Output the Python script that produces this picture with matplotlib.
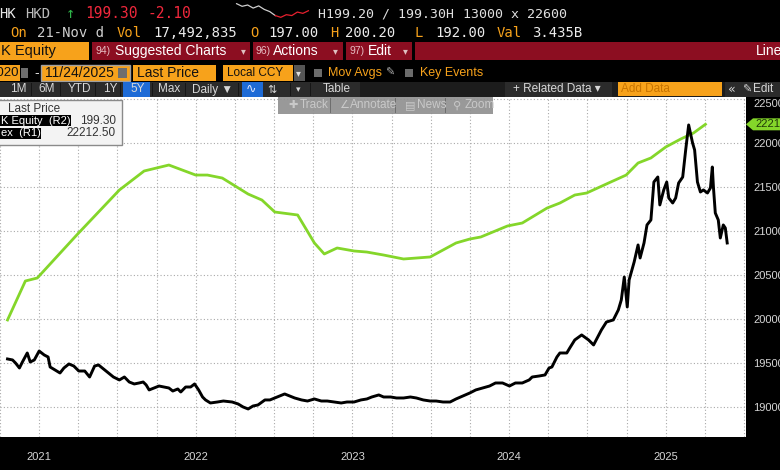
import matplotlib
matplotlib.use('Agg')
import numpy as np
import matplotlib.pyplot as plt
from matplotlib.patches import Rectangle, Polygon

# ---- values ----
# black line: the HK equity, last price (R2, axis hidden), time in decimal years
eq_t = [
    2021.298, 2021.330, 2021.349, 2021.374, 2021.393, 2021.424, 2021.443, 2021.469, 2021.500, 2021.532,
    2021.557, 2021.570, 2021.601, 2021.633, 2021.658, 2021.690, 2021.721, 2021.753, 2021.791, 2021.822,
    2021.854, 2021.879, 2021.911, 2021.943, 2021.974, 2022.012, 2022.044, 2022.075, 2022.107, 2022.138,
    2022.164, 2022.183, 2022.202, 2022.233, 2022.265, 2022.296, 2022.328, 2022.353, 2022.385, 2022.404,
    2022.435, 2022.467, 2022.492, 2022.518, 2022.543, 2022.562, 2022.593, 2022.638, 2022.676, 2022.732,
    2022.770, 2022.802, 2022.834, 2022.865, 2022.897, 2022.941, 2022.973, 2023.004, 2023.036, 2023.067,
    2023.099, 2023.131, 2023.175, 2023.213, 2023.257, 2023.301, 2023.339, 2023.383, 2023.428, 2023.465,
    2023.510, 2023.554, 2023.592, 2023.623, 2023.668, 2023.699, 2023.744, 2023.781, 2023.826, 2023.870,
    2023.908, 2023.952, 2023.996, 2024.034, 2024.078, 2024.123, 2024.161, 2024.205, 2024.249, 2024.287,
    2024.331, 2024.375, 2024.413, 2024.458, 2024.502, 2024.540, 2024.584, 2024.628, 2024.647, 2024.691,
    2024.729, 2024.755, 2024.773, 2024.805, 2024.824, 2024.868, 2024.887, 2024.919, 2024.963, 2025.007,
    2025.039, 2025.089, 2025.121, 2025.165, 2025.197, 2025.216, 2025.235, 2025.254, 2025.266, 2025.298,
    2025.323, 2025.336, 2025.361, 2025.380, 2025.405, 2025.424, 2025.449, 2025.462, 2025.487, 2025.506,
    2025.519, 2025.544, 2025.563, 2025.582, 2025.608, 2025.627, 2025.646, 2025.671, 2025.684, 2025.702,
    2025.721, 2025.740, 2025.766, 2025.785, 2025.797, 2025.804, 2025.816, 2025.835, 2025.848, 2025.867,
    2025.880, 2025.892]
eq_px = [
    69.4, 68.3, 64.9, 59.3, 66.0, 76.1, 66.0, 68.3, 78.3, 73.9,
    71.6, 60.4, 57.1, 53.7, 59.3, 63.8, 61.5, 55.9, 55.9, 49.2,
    61.5, 62.7, 58.2, 53.7, 49.2, 45.9, 49.2, 43.6, 41.4, 42.5,
    43.6, 40.3, 34.7, 36.9, 39.1, 38.0, 36.9, 33.5, 35.8, 32.4,
    38.0, 38.0, 41.4, 34.7, 26.8, 23.5, 20.1, 21.2, 22.3, 21.2,
    19.0, 15.6, 13.4, 16.7, 17.9, 23.5, 23.5, 25.7, 27.9, 30.2,
    27.9, 25.7, 23.5, 22.3, 24.6, 22.3, 22.3, 21.2, 20.1, 21.2,
    21.2, 23.5, 24.6, 26.8, 29.1, 26.8, 26.8, 25.7, 25.7, 26.8,
    25.7, 23.5, 22.3, 22.3, 21.2, 21.2, 24.6, 27.9, 31.3, 34.7,
    36.9, 39.1, 42.5, 42.5, 39.1, 42.5, 42.5, 45.9, 49.2, 50.3,
    51.5, 59.3, 60.4, 71.6, 76.1, 76.1, 81.7, 90.7, 96.3, 90.7,
    85.1, 101.9, 110.8, 113.1, 124.3, 135.5, 161.2, 127.6, 157.9, 178.0,
    197.1, 182.5, 199.3, 219.5, 225.1, 267.6, 273.2, 241.9, 258.7, 267.6,
    249.7, 244.1, 249.7, 266.5, 273.2, 303.5, 331.5, 311.3, 303.5, 267.6,
    256.4, 258.7, 255.3, 260.9, 284.4, 262.0, 232.9, 225.1, 204.9, 219.5,
    216.1, 199.3]

# green line: the index (R1)
idx_t = [2021.298, 2021.412, 2021.488, 2021.740, 2022.012, 2022.170, 2022.328, 2022.499,
         2022.574, 2022.669, 2022.834, 2022.922, 2023.004, 2023.150, 2023.257, 2023.320,
         2023.402, 2023.510, 2023.592, 2023.699, 2023.826, 2023.996, 2024.161, 2024.249,
         2024.319, 2024.489, 2024.584, 2024.742, 2024.824, 2024.919, 2024.995, 2025.134,
         2025.247, 2025.323, 2025.405, 2025.500, 2025.595, 2025.677, 2025.753]
idx_val = [19989, 20432, 20466, 20955, 21466, 21682, 21750, 21636, 21636, 21602, 21420,
           21352, 21216, 21182, 20864, 20739, 20807, 20773, 20761, 20727, 20682, 20705,
           20864, 20909, 20932, 21057, 21091, 21261, 21318, 21409, 21432, 21545, 21636,
           21773, 21830, 21955, 22045, 22114, 22212.5]

# intraday sparkline in the header
spark_vals = [201.6, 201.0, 201.3, 200.6, 201.1, 200.3, 199.8, 198.9, 198.5, 199.1,
              198.9, 199.7, 199.4, 200.0]
spark_split = 7

r1_ticks = [19000, 19500, 20000, 20500, 21000, 21500, 22000, 22500]
years = [2021, 2022, 2023, 2024, 2025]

eq_last = 199.30
idx_last = 22212.50

# ---- figure ----
W, H = 780, 470
fig = plt.figure(figsize=(W / 100, H / 100), dpi=100)
fig.patch.set_facecolor('black')

SANS = ['Liberation Sans', 'DejaVu Sans']
MONO = ['DejaVu Sans Mono', 'DejaVu Sans']
NARROW = ['Liberation Sans Narrow', 'Liberation Sans', 'DejaVu Sans']
SYM = ['DejaVu Sans']

ORANGE = '#f7a21b'
RED_BAR = '#8c0e21'
GREY_TXT = '#d6d6d6'
GREEN = '#84d62a'


def fx(x):
    return x / W


def fy(y):
    return 1 - y / H


def rect(x0, y0, x1, y1, fc, ec='none', lw=0, z=2, alpha=1.0):
    fig.patches.append(Rectangle((fx(x0), fy(y1)), (x1 - x0) / W, (y1 - y0) / H,
                                 transform=fig.transFigure, fc=fc, ec=ec, lw=lw,
                                 zorder=z, alpha=alpha))


def label(x, y, s, c=GREY_TXT, size=10, fam=SANS, ha='left', z=6):
    fig.text(fx(x), fy(y), s, color=c, fontsize=size, family=fam, ha=ha,
             va='center', zorder=z)


# main chart
ax = fig.add_axes([0, fy(437), fx(746), 340 / H])
ax.set_facecolor('white')
ax.plot(idx_t, idx_val, color=GREEN, lw=2.0, solid_joinstyle='round', zorder=3)
ax.set_xlim(2021.298, 2026.012)
ax.set_ylim(18659, 22523)

ax2 = ax.twinx()
ax2.plot(eq_t, eq_px, color='black', lw=2.1, solid_joinstyle='round', zorder=4)
ax2.set_ylim(-18.0, 362.8)
ax2.yaxis.set_visible(False)

for a in (ax, ax2):
    for sp in a.spines.values():
        sp.set_visible(False)

ax.yaxis.tick_right()
ax.set_yticks(r1_ticks, [str(v) for v in r1_ticks])
ax.set_xticks([y + 0.5 for y in years], [str(y) for y in years])
ax.set_xticks(np.arange(2021.25, 2026.01, 0.25), minor=True)
ax.tick_params(which='both', length=0)
ax.tick_params(axis='y', pad=5, labelsize=8, labelcolor=GREY_TXT)
ax.tick_params(axis='x', pad=11, labelsize=8, labelcolor=GREY_TXT)
ax.grid(True, which='both', color='#a9a9a9', ls=(0, (1, 2)), lw=0.8)
ax.set_axisbelow(True)
for t in ax.get_xticklabels() + ax.get_yticklabels():
    t.set_family(NARROW)
# the top label sits a bit lower so it is not clipped by the toolbar
ax.get_yticklabels()[-1].set_va('top')

# last value flag on the right axis
y_flag = fig.transFigure.inverted().transform(ax.transData.transform((2026.0, idx_last)))[1]
hh = 6 / H
fig.patches.append(Polygon([(fx(746), y_flag), (fx(753), y_flag + hh), (fx(782), y_flag + hh),
                            (fx(782), y_flag - hh), (fx(753), y_flag - hh)], closed=True,
                           transform=fig.transFigure, fc=GREEN, ec='none', zorder=5))
fig.text(fx(755), y_flag, f'{idx_last:.2f}', color='#203a08', fontsize=8, family=NARROW,
         ha='left', va='center', zorder=6)

# legend box
rect(-3, 100, 122, 145, '#f3f3f3', ec='#8a8a8a', lw=1, z=5)
label(34, 108.5, 'Last Price', '#333333', 8.5, ha='center')
rect(0, 115, 71, 126, 'black', z=5.5)
label(1, 120.5, 'K Equity  (R2)', 'white', 8)
label(116, 120.5, f'{eq_last:.2f}', '#333333', 8.5, ha='right')
rect(0, 128, 41, 139, 'black', z=5.5)
label(1, 133.5, 'ex  (R1)', 'white', 8)
label(116, 133.5, f'{idx_last:.2f}', '#333333', 8.5, ha='right')

# floating chart toolbar
rect(278, 97, 493, 114, '#8e8e8e', z=5, alpha=0.9)
for sx in (330, 395, 445):
    rect(sx, 98, sx + 1, 113, '#6e6e6e', z=5.5)
label(288, 105.5, '✚', '#c9c9c9', 8, SYM)
label(300, 105.5, 'Track', '#c9c9c9', 8.5)
label(339, 105.5, '∠', '#c9c9c9', 8, SYM)
label(350, 105.5, 'Annotate', '#c9c9c9', 8.5)
label(405, 105.5, '▤', '#c9c9c9', 8, SYM)
label(417, 105.5, 'News', '#c9c9c9', 8.5)
label(453, 105.5, '⚲', '#c9c9c9', 8, SYM)
label(465, 105.5, 'Zoom', '#c9c9c9', 8.5)

# ---- header, row 1 ----
label(-1, 14, 'HK', '#e8e8e8', 10, MONO)
label(25, 14, 'HKD', '#bdbdbd', 10, MONO)
label(66, 14, '↑', '#2fb54a', 11, MONO)
label(85, 14, f'{eq_last:.2f}', '#f0283c', 10.5, MONO)
label(147, 14, '-2.10', '#f0283c', 10.5, MONO)
label(318, 14, 'H199.20 / 199.30H', '#e0e0e0', 9.5, MONO)
label(463, 14, '13000 x 22600', '#e0e0e0', 9.5, MONO)

axs = fig.add_axes([fx(233), fy(18), 79 / W, 15 / H])
xs = np.arange(len(spark_vals))
axs.plot(xs[:spark_split + 1], spark_vals[:spark_split + 1], color='#cfcfcf', lw=0.9)
axs.plot(xs[spark_split:], spark_vals[spark_split:], color='#e8202e', lw=0.9)
axs.axis('off')

# row 2
for x, s, c in [(10, 'On', ORANGE), (37, '21-Nov d', '#cfcfcf'), (117, 'Vol', ORANGE),
                (153, '17,492,835', '#ececec'), (250, 'O', ORANGE), (268, '197.00', '#ececec'),
                (330, 'H', ORANGE), (345, '200.20', '#ececec'), (415, 'L', ORANGE),
                (435, '192.00', '#ececec'), (497, 'Val', ORANGE), (532, '3.435B', '#ececec')]:
    label(x, 33, s, c, 10, MONO)

# row 3
rect(-1, 42, 89, 60, ORANGE)
label(1, 51, 'K Equity', '#111111', 10.5)
rect(92, 42, 250, 60, RED_BAR)
label(96, 51, '94)', '#e6bcc2', 7.5)
label(115, 51, 'Suggested Charts', 'white', 10)
label(241, 51, '▾', '#e0c0c0', 7, SYM)
rect(253, 42, 343, 60, RED_BAR)
label(256, 51, '96)', '#e6bcc2', 7.5)
label(273, 51, 'Actions', 'white', 10)
label(333, 51, '▾', '#e0c0c0', 7, SYM)
rect(346, 42, 412, 60, RED_BAR)
label(350, 51, '97)', '#e6bcc2', 7.5)
label(368, 51, 'Edit', 'white', 10)
label(403, 51, '▾', '#e0c0c0', 7, SYM)
rect(415, 42, 782, 60, RED_BAR)
label(756, 51, 'Line', 'white', 10)

# row 4
rect(-1, 65, 20, 81, ORANGE)
label(19, 73, '11/24/2020', '#111111', 9.5, ha='right')
rect(21, 68, 28, 78, '#6e6e6e')
label(34, 73, '-', '#dddddd', 10)
rect(41, 65, 130, 81, ORANGE, ec='#a0a0a0', lw=1)
label(45, 73, '11/24/2025', '#111111', 10)
rect(118, 68, 127, 78, '#6e6e6e', z=3)
rect(133, 65, 216, 81, ORANGE)
label(137, 73, 'Last Price', '#111111', 10)
rect(223, 65, 293, 81, ORANGE)
label(227, 73, 'Local CCY', '#111111', 8.5)
rect(294, 65, 305, 81, '#555555')
label(296, 73, '▾', '#dddddd', 7, SYM)
rect(314, 69, 322, 77, '#6b6b6b')
label(328, 73, 'Mov Avgs', ORANGE, 9)
label(385, 73, '✎', '#aaaaaa', 8, SYM)
rect(405, 69, 413, 77, '#6b6b6b')
label(420, 73, 'Key Events', ORANGE, 9)

# row 5
rect(0, 82, 782, 97, '#1c1c1c')
rect(0, 82, 360, 97, '#2b2b2b', z=2.1)
rect(505, 82, 612, 97, '#2b2b2b', z=2.1)
rect(725, 82, 782, 97, '#2b2b2b', z=2.1)
for sx in (31, 60, 95, 120, 152, 185, 238, 290, 310):
    rect(sx, 83, sx + 1, 96, '#161616', z=2.2)
rect(123, 82, 150, 97, '#1e6bd6', z=2.3)
rect(242, 82, 263, 97, '#1e6bd6', z=2.3)
for x, s in [(10, '1M'), (38, '6M'), (68, 'YTD'), (103, '1Y'), (130, '5Y'), (158, 'Max'),
             (192, 'Daily ▼'), (323, 'Table'), (513, '+ Related Data ▾')]:
    label(x, 89.5, s, '#d8d8d8', 8.5)
label(246, 89.5, '∿', '#e0e8ff', 9, SYM)
label(267, 89.5, '⇅', '#d8d8d8', 8, SYM)
label(296, 89.5, '▾', '#d8d8d8', 6.5, SYM)
rect(618, 82, 722, 96, ORANGE, z=2.3)
label(621, 89.5, 'Add Data', '#c87400', 8.5)
label(728, 89.5, '«', '#d8d8d8', 9, SYM)
label(742, 89.5, '✎', '#d8d8d8', 8, SYM)
label(753, 89.5, 'Edit', '#d8d8d8', 8.5)

fig.savefig('out.png', dpi=100, facecolor=fig.get_facecolor())
